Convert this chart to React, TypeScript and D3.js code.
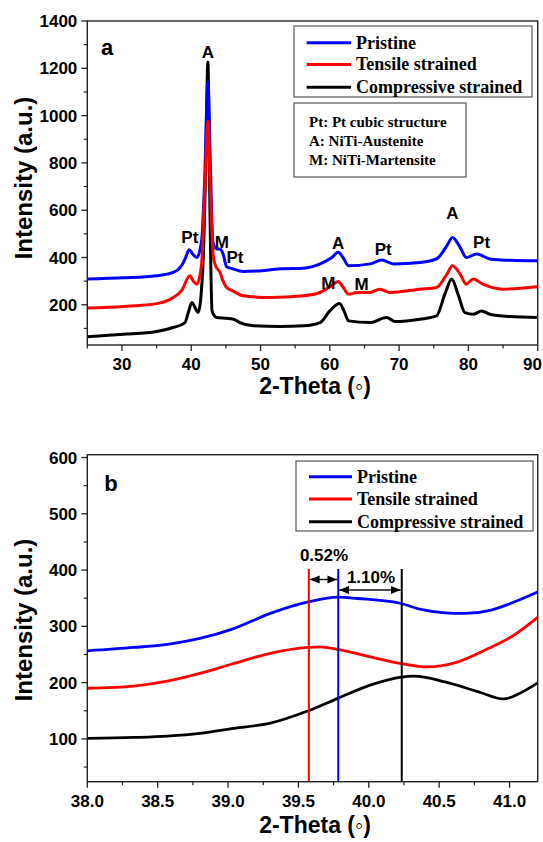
import React from "react";
import * as d3 from "d3";

// ---------- Data: panel a (XRD patterns) ----------
const pristineA: [number, number][] = [
  [25, 309], [30.2, 314], [35, 323], [37.4, 337], [38.6, 365], [39.2, 400], [39.7, 433], [40.2, 415],
  [40.8, 400], [41.5, 471], [41.9, 700], [42.4, 1143], [42.8, 750], [43.1, 470], [43.6, 437], [44.2, 435],
  [44.6, 415], [45.1, 361], [46, 352], [47.5, 341], [49.5, 343], [52.8, 352], [56.2, 355], [58.6, 373],
  [60.3, 400], [61.2, 422], [61.9, 400], [62.7, 365], [65.8, 373], [67.5, 389], [69.2, 373], [73, 379],
  [75.4, 394], [76.9, 450], [77.7, 485], [78.8, 443], [79.7, 400], [81.2, 415], [83.1, 394], [86, 388], [90, 386],
];
const tensileA: [number, number][] = [
  [25, 186], [30.2, 193], [35, 205], [37.4, 231], [38.6, 260], [39.8, 323], [40.3, 300], [40.8, 287],
  [41.5, 374], [41.9, 650], [42.4, 975], [42.8, 650], [43.2, 400], [43.6, 360], [44.1, 340], [44.6, 300],
  [45.1, 273], [46, 259], [47.5, 238], [51.3, 231], [56.2, 238], [58.6, 252], [60.2, 280], [61.2, 299],
  [61.9, 275], [62.7, 245], [63.9, 252], [65.8, 252], [67.2, 266], [68.7, 252], [73, 266], [75.4, 273],
  [76.9, 330], [77.7, 365], [78.8, 330], [79.7, 287], [80.7, 309], [82.1, 287], [85, 266], [90, 276],
];
const compressiveA: [number, number][] = [
  [25, 65], [30.2, 75], [35, 87], [37.4, 104], [39.1, 125], [39.6, 170], [40.1, 210], [40.6, 185],
  [41, 167], [41.7, 374], [42.1, 800], [42.4, 1227], [42.7, 600], [43, 174], [43.7, 146], [45.1, 143],
  [46.1, 139], [47, 125], [49, 111], [52.8, 108], [56.2, 111], [58.6, 125], [60, 174], [61.4, 205],
  [62.1, 170], [62.7, 132], [65.8, 125], [68.2, 146], [69.4, 129], [73, 139], [75.4, 153], [76.6, 245],
  [77.6, 309], [78.5, 245], [79.5, 167], [80.7, 160], [81.9, 174], [83.1, 160], [86, 150], [90, 146],
];
const peakLabelsA: { t: string; x: number; y: number }[] = [
  { t: "A", x: 42.4, y: 1245 },
  { t: "Pt", x: 39.8, y: 461 },
  { t: "M", x: 44.4, y: 441 },
  { t: "Pt", x: 46.3, y: 375 },
  { t: "A", x: 61.2, y: 434 },
  { t: "Pt", x: 67.7, y: 409 },
  { t: "M", x: 59.8, y: 268 },
  { t: "M", x: 64.6, y: 262 },
  { t: "A", x: 77.7, y: 561 },
  { t: "Pt", x: 81.9, y: 441 },
];

// ---------- Data: panel b (zoom on 38-41.2) ----------
const pristineB: [number, number][] = [
  [38, 256.5], [38.33, 262.5], [38.57, 268], [38.8, 278.5], [39.04, 296], [39.3, 323], [39.57, 343.5],
  [39.78, 352], [39.92, 349.5], [40.23, 340.6], [40.37, 330], [40.54, 324], [40.68, 323], [40.87, 329],
  [41.01, 341], [41.2, 361],
];
const tensileB: [number, number][] = [
  [38, 190], [38.33, 194], [38.57, 202.7], [38.8, 216.3], [39.04, 234], [39.3, 252], [39.57, 262.5],
  [39.65, 263.6], [39.78, 259], [40.01, 245.8], [40.23, 234], [40.42, 228], [40.61, 235], [40.85, 260.7],
  [41.01, 281], [41.2, 316],
];
const compressiveB: [number, number][] = [
  [38, 100.8], [38.33, 102.6], [38.57, 105], [38.8, 109.8], [39.04, 118.6], [39.3, 128], [39.57, 150],
  [39.78, 172], [40.01, 195.6], [40.23, 210], [40.32, 211.5], [40.54, 201.4], [40.78, 183.7], [40.96, 171],
  [41.07, 180.8], [41.2, 199.6],
];
const peakPositions = [39.574, 39.783, 40.234]; // tensile, pristine, compressive
const strainLabels = ["0.52%", "1.10%"];

const seriesNames = ["Pristine", "Tensile strained", "Compressive strained"];
const seriesColors = ["#0000ff", "#ff0000", "#000000"];
const notes = ["Pt: Pt cubic structure", "A: NiTi-Austenite", "M: NiTi-Martensite"];

const xTicksA = [30, 40, 50, 60, 70, 80, 90];
const xMinorA = [25, 35, 45, 55, 65, 75, 85];
const yTicksA = [200, 400, 600, 800, 1000, 1200, 1400];
const yMinorA = [100, 300, 500, 700, 900, 1100, 1300];
const xTicksB = [38.0, 38.5, 39.0, 39.5, 40.0, 40.5, 41.0];
const xMinorB = [38.25, 38.75, 39.25, 39.75, 40.25, 40.75];
const yTicksB = [100, 200, 300, 400, 500, 600];
const yMinorB = [50, 150, 250, 350, 450, 550];

const SANS = "Arial, 'Liberation Sans', sans-serif";
const SERIF = "'Times New Roman', 'Liberation Serif', serif";

function Axes({ x, y, xt, xm, yt, ym, fmt, L, R, T, B }: any) {
  return (
    <g>
      <rect x={L} y={T} width={R - L} height={B - T} fill="none" stroke="#222" strokeWidth={1.4} />
      {xt.map((v: number) => {
        const px = x(v);
        const edge = px > R - 2;
        return (
          <g key={"xt" + v}>
            <line x1={px} x2={px} y1={B} y2={B + 6} stroke="#222" strokeWidth={1.3} />
            <text x={edge ? 542 : px} y={B + 25} textAnchor={edge ? "end" : "middle"} fontFamily={SANS} fontWeight="bold" fontSize={17}>
              {fmt(v)}
            </text>
          </g>
        );
      })}
      {xm.map((v: number) => (
        <line key={"xm" + v} x1={x(v)} x2={x(v)} y1={B} y2={B + 3.5} stroke="#222" strokeWidth={1.2} />
      ))}
      {yt.map((v: number) => (
        <g key={"yt" + v}>
          <line x1={L - 6} x2={L} y1={y(v)} y2={y(v)} stroke="#222" strokeWidth={1.3} />
          <text x={L - 10} y={y(v)} dy="0.36em" textAnchor="end" fontFamily={SANS} fontWeight="bold" fontSize={17}>
            {v}
          </text>
        </g>
      ))}
      {ym.map((v: number) => (
        <line key={"ym" + v} x1={L - 3.5} x2={L} y1={y(v)} y2={y(v)} stroke="#222" strokeWidth={1.2} />
      ))}
    </g>
  );
}

export default function App() {
  const L = 87.3, R = 537.7;
  const TA = 21, BA = 345;
  const TB = 454.7, BB = 781.7;

  const xA = d3.scaleLinear().domain([25, 90]).range([L, R]);
  const yA = d3.scaleLinear().domain([30, 1400]).range([BA, TA]);
  const xB = d3.scaleLinear().domain([38, 41.2]).range([L, R]);
  const yB = d3.scaleLinear().domain([24, 605]).range([BB, TB]);

  const lineA = d3.line<[number, number]>().x((d) => xA(d[0])).y((d) => yA(d[1])).curve(d3.curveMonotoneX);
  const lineB = d3.line<[number, number]>().x((d) => xB(d[0])).y((d) => yB(d[1])).curve(d3.curveMonotoneX);

  const seriesA = [pristineA, tensileA, compressiveA];
  const seriesB = [pristineB, tensileB, compressiveB];
  // drawing order: compressive, pristine, tensile
  const order = [2, 0, 1];

  const legend = (x0: number, y0: number, x1: number, y1: number, rows: number[], lx0: number, lx1: number, tx: number) => (
    <g>
      <rect x={x0} y={y0} width={x1 - x0} height={y1 - y0} fill="white" stroke="#555" strokeWidth={1.2} />
      {seriesNames.map((n, i) => (
        <g key={n}>
          <line x1={lx0} x2={lx1} y1={rows[i]} y2={rows[i]} stroke={seriesColors[i]} strokeWidth={3} />
          <text x={tx} y={rows[i]} dy="0.33em" fontFamily={SERIF} fontWeight="bold" fontSize={18}>
            {n}
          </text>
        </g>
      ))}
    </g>
  );

  const [pT, pP, pC] = peakPositions;
  const vTop = 569;
  const arrowY1 = 579.5, arrowY2 = 590;

  return (
    <svg width={543} height={842} style={{ position: "absolute", left: 0, top: 0, background: "white" }}>
      <defs>
        <marker id="ah" viewBox="0 0 10 10" refX="10" refY="5" markerWidth="7" markerHeight="7" orient="auto-start-reverse">
          <path d="M0,1 L10,5 L0,9 z" fill="#000" />
        </marker>
      </defs>
      <rect x={0} y={0} width={543} height={842} fill="white" />

      {/* ===== Panel a ===== */}
      <g>
        {order.map((i) => (
          <path key={"a" + i} d={lineA(seriesA[i]) || ""} fill="none" stroke={seriesColors[i]} strokeWidth={3} strokeLinejoin="round" />
        ))}
        {peakLabelsA.map((p, i) => (
          <text key={"pl" + i} x={xA(p.x)} y={yA(p.y)} textAnchor="middle" fontFamily={SANS} fontWeight="bold" fontSize={17}>
            {p.t}
          </text>
        ))}
        <Axes x={xA} y={yA} xt={xTicksA} xm={xMinorA} yt={yTicksA} ym={yMinorA} fmt={(v: number) => String(v)} L={L} R={R} T={TA} B={BA} />
        <text x={107} y={47} dy="0.35em" textAnchor="middle" fontFamily={SANS} fontWeight="bold" fontSize={22}>a</text>
        {legend(294, 26, 532, 97, [42.7, 64.5, 87.3], 306.7, 351, 356)}
        <rect x={294} y={103} width={172} height={74} fill="white" stroke="#555" strokeWidth={1.2} />
        {notes.map((n, i) => (
          <text key={n} x={309} y={121.7 + i * 19.2} dy="0.33em" fontFamily={SERIF} fontWeight="bold" fontSize={15}>
            {n}
          </text>
        ))}
        <text transform={`translate(24,178) rotate(-90)`} textAnchor="middle" dy="0.35em" fontFamily={SANS} fontWeight="bold" fontSize={24}>
          Intensity (a.u.)
        </text>
        <text x={315} y={394} textAnchor="middle" fontFamily={SANS} fontWeight="bold" fontSize={23}>
          2-Theta (◦)
        </text>
      </g>

      {/* ===== Panel b ===== */}
      <g>
        {order.map((i) => (
          <path key={"b" + i} d={lineB(seriesB[i]) || ""} fill="none" stroke={seriesColors[i]} strokeWidth={2.8} strokeLinejoin="round" />
        ))}
        {[pT, pP, pC].map((v, i) => (
          <line key={"v" + i} x1={xB(v)} x2={xB(v)} y1={vTop} y2={BB} stroke={[seriesColors[1], seriesColors[0], seriesColors[2]][i]} strokeWidth={2} />
        ))}
        <line x1={(xB(pT) + xB(pP)) / 2} x2={xB(pT) + 1} y1={arrowY1} y2={arrowY1} stroke="#000" strokeWidth={1.4} markerEnd="url(#ah)" />
        <line x1={(xB(pT) + xB(pP)) / 2} x2={xB(pP) - 1} y1={arrowY1} y2={arrowY1} stroke="#000" strokeWidth={1.4} markerEnd="url(#ah)" />
        <line x1={(xB(pP) + xB(pC)) / 2} x2={xB(pP) + 1} y1={arrowY2} y2={arrowY2} stroke="#000" strokeWidth={1.4} markerEnd="url(#ah)" />
        <line x1={(xB(pP) + xB(pC)) / 2} x2={xB(pC) - 1} y1={arrowY2} y2={arrowY2} stroke="#000" strokeWidth={1.4} markerEnd="url(#ah)" />
        <text x={324} y={555} dy="0.35em" textAnchor="middle" fontFamily={SANS} fontWeight="bold" fontSize={17}>{strainLabels[0]}</text>
        <text x={371} y={577} dy="0.35em" textAnchor="middle" fontFamily={SANS} fontWeight="bold" fontSize={17}>{strainLabels[1]}</text>
        <Axes x={xB} y={yB} xt={xTicksB} xm={xMinorB} yt={yTicksB} ym={yMinorB} fmt={(v: number) => v.toFixed(1)} L={L} R={R} T={TB} B={BB} />
        <text x={111} y={483} dy="0.35em" textAnchor="middle" fontFamily={SANS} fontWeight="bold" fontSize={22}>b</text>
        {legend(296, 461, 533, 531, [476.7, 499, 521.7], 309, 352, 357)}
        <text transform={`translate(24,620) rotate(-90)`} textAnchor="middle" dy="0.35em" fontFamily={SANS} fontWeight="bold" fontSize={24}>
          Intensity (a.u.)
        </text>
        <text x={315} y={833} textAnchor="middle" fontFamily={SANS} fontWeight="bold" fontSize={23}>
          2-Theta (◦)
        </text>
      </g>
    </svg>
  );
}
